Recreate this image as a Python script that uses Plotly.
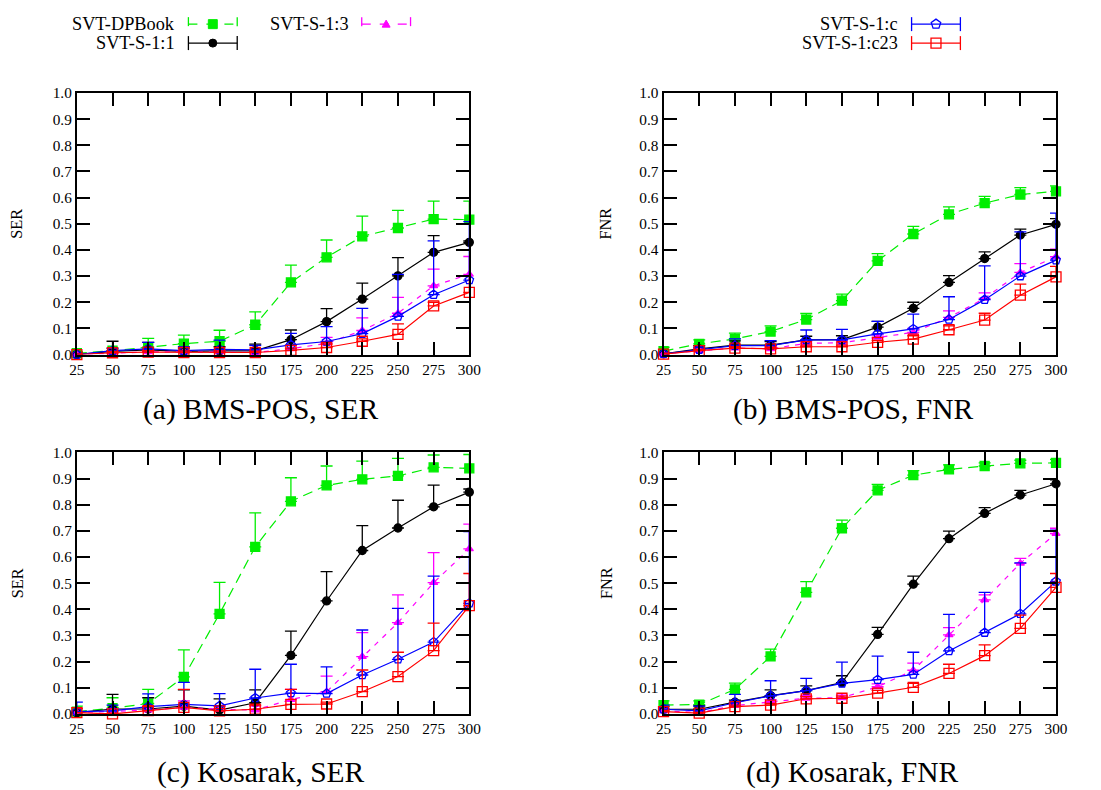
import math
import plotly.graph_objects as go

W, H = 1101, 790
# the photographed page is the figure offset by the 8px body margin and scaled
# by about 1101/1117 x 790/806; layout positions below are given in picture
# pixels and converted to figure paper coordinates.
PAGE_MARGIN = 8
SX, SY = (W + 2 * PAGE_MARGIN) / W, (H + 2 * PAGE_MARGIN) / H
FS = (SX + SY) / 2  # font size compensation

X = [25, 50, 75, 100, 125, 150, 175, 200, 225, 250, 275, 300]
SERIES = ["SVT-DPBook", "SVT-S-1:1", "SVT-S-1:3", "SVT-S-1:c", "SVT-S-1:c23"]

# (a) BMS-POS, SER
dpbook_a = [0.005, 0.015, 0.028, 0.042, 0.051, 0.114, 0.276, 0.372, 0.452, 0.484, 0.518, 0.516]
dpbook_a_hi = [0.012, 0.025, 0.062, 0.074, 0.093, 0.163, 0.342, 0.438, 0.529, 0.551, 0.587, 0.587]
s11_a = [0.0, 0.012, 0.018, 0.012, 0.014, 0.014, 0.057, 0.126, 0.212, 0.301, 0.391, 0.429]
s11_a_hi = [0.005, 0.051, 0.047, 0.025, 0.03, 0.04, 0.094, 0.176, 0.273, 0.371, 0.455, 0.435]
s13_a = [0.0, 0.006, 0.01, 0.01, 0.01, 0.008, 0.022, 0.043, 0.092, 0.158, 0.263, 0.307]
s13_a_hi = [0.003, 0.012, 0.018, 0.016, 0.016, 0.014, 0.035, 0.066, 0.14, 0.219, 0.327, 0.375]
sc_a = [0.0, 0.015, 0.022, 0.015, 0.02, 0.018, 0.037, 0.05, 0.08, 0.146, 0.229, 0.285]
sc_a_hi = [0.003, 0.024, 0.047, 0.03, 0.055, 0.035, 0.081, 0.107, 0.177, 0.307, 0.435, 0.508]
sc23_a = [0.0, 0.007, 0.009, 0.008, 0.008, 0.008, 0.016, 0.027, 0.051, 0.077, 0.186, 0.238]
sc23_a_hi = [0.003, 0.012, 0.015, 0.014, 0.014, 0.013, 0.025, 0.04, 0.06, 0.117, 0.2, 0.3]

# (b) BMS-POS, FNR
dpbook_b = [0.013, 0.041, 0.06, 0.088, 0.134, 0.206, 0.358, 0.461, 0.536, 0.579, 0.612, 0.624]
dpbook_b_hi = [0.028, 0.056, 0.082, 0.11, 0.157, 0.231, 0.386, 0.49, 0.565, 0.605, 0.638, 0.645]
s11_b = [0.003, 0.022, 0.036, 0.036, 0.056, 0.057, 0.105, 0.177, 0.276, 0.367, 0.457, 0.498]
s11_b_hi = [0.008, 0.034, 0.052, 0.05, 0.07, 0.072, 0.127, 0.2, 0.302, 0.393, 0.48, 0.52]
s13_b = [0.003, 0.015, 0.025, 0.022, 0.043, 0.045, 0.066, 0.085, 0.142, 0.215, 0.314, 0.374]
s13_b_hi = [0.006, 0.022, 0.035, 0.03, 0.05, 0.052, 0.075, 0.1, 0.167, 0.236, 0.348, 0.403]
sc_b = [0.003, 0.019, 0.034, 0.034, 0.056, 0.056, 0.079, 0.098, 0.134, 0.21, 0.3, 0.361]
sc_b_hi = [0.006, 0.028, 0.06, 0.053, 0.094, 0.096, 0.127, 0.155, 0.221, 0.339, 0.469, 0.541]
sc23_b = [0.002, 0.015, 0.025, 0.022, 0.03, 0.03, 0.047, 0.059, 0.095, 0.132, 0.227, 0.297]
sc23_b_hi = [0.005, 0.02, 0.03, 0.028, 0.036, 0.036, 0.054, 0.072, 0.11, 0.158, 0.269, 0.337]

# (c) Kosarak, SER
dpbook_c = [0.009, 0.022, 0.04, 0.142, 0.383, 0.639, 0.813, 0.874, 0.897, 0.91, 0.943, 0.939]
dpbook_c_hi = [0.03, 0.062, 0.094, 0.245, 0.503, 0.769, 0.903, 0.948, 0.967, 0.977, 0.99, 0.992]
s11_c = [0.005, 0.019, 0.019, 0.03, 0.015, 0.043, 0.224, 0.432, 0.625, 0.711, 0.792, 0.848]
s11_c_hi = [0.02, 0.075, 0.062, 0.092, 0.058, 0.092, 0.317, 0.544, 0.72, 0.817, 0.875, 0.86]
s13_c = [0.005, 0.01, 0.015, 0.025, 0.018, 0.015, 0.055, 0.085, 0.219, 0.349, 0.502, 0.631]
s13_c_hi = [0.02, 0.02, 0.03, 0.05, 0.03, 0.03, 0.094, 0.145, 0.311, 0.455, 0.617, 0.726]
sc_c = [0.009, 0.012, 0.028, 0.037, 0.031, 0.061, 0.08, 0.078, 0.149, 0.209, 0.275, 0.423]
sc_c_hi = [0.045, 0.034, 0.077, 0.121, 0.078, 0.171, 0.19, 0.18, 0.321, 0.404, 0.527, 0.697]
sc23_c = [0.005, 0.0, 0.013, 0.025, 0.012, 0.018, 0.037, 0.038, 0.085, 0.143, 0.242, 0.414]
sc23_c_hi = [0.022, 0.003, 0.028, 0.094, 0.02, 0.034, 0.094, 0.045, 0.168, 0.236, 0.347, 0.537]

# (d) Kosarak, FNR
dpbook_d = [0.034, 0.036, 0.094, 0.22, 0.465, 0.71, 0.855, 0.913, 0.935, 0.948, 0.958, 0.96]
dpbook_d_hi = [0.05, 0.05, 0.118, 0.248, 0.506, 0.741, 0.878, 0.93, 0.952, 0.96, 0.97, 0.973]
s11_d = [0.018, 0.018, 0.045, 0.07, 0.089, 0.12, 0.304, 0.496, 0.67, 0.767, 0.837, 0.88]
s11_d_hi = [0.028, 0.031, 0.053, 0.092, 0.107, 0.146, 0.331, 0.527, 0.699, 0.789, 0.855, 0.895]
s13_d = [0.012, 0.005, 0.032, 0.047, 0.06, 0.062, 0.104, 0.167, 0.302, 0.436, 0.576, 0.69]
s13_d_hi = [0.02, 0.012, 0.04, 0.055, 0.07, 0.072, 0.115, 0.194, 0.33, 0.455, 0.595, 0.71]
sc_d = [0.018, 0.012, 0.043, 0.069, 0.089, 0.117, 0.131, 0.151, 0.241, 0.311, 0.383, 0.507]
sc_d_hi = [0.034, 0.03, 0.075, 0.127, 0.136, 0.198, 0.221, 0.236, 0.381, 0.465, 0.578, 0.703]
sc23_d = [0.009, 0.003, 0.028, 0.034, 0.058, 0.06, 0.08, 0.102, 0.155, 0.223, 0.327, 0.484]
sc23_d_hi = [0.014, 0.006, 0.034, 0.04, 0.066, 0.068, 0.09, 0.117, 0.19, 0.264, 0.378, 0.537]

PANELS = [
    ("(a) BMS-POS, SER", "SER", [(dpbook_a, dpbook_a_hi), (s11_a, s11_a_hi), (s13_a, s13_a_hi), (sc_a, sc_a_hi), (sc23_a, sc23_a_hi)]),
    ("(b) BMS-POS, FNR", "FNR", [(dpbook_b, dpbook_b_hi), (s11_b, s11_b_hi), (s13_b, s13_b_hi), (sc_b, sc_b_hi), (sc23_b, sc23_b_hi)]),
    ("(c) Kosarak, SER", "SER", [(dpbook_c, dpbook_c_hi), (s11_c, s11_c_hi), (s13_c, s13_c_hi), (sc_c, sc_c_hi), (sc23_c, sc23_c_hi)]),
    ("(d) Kosarak, FNR", "FNR", [(dpbook_d, dpbook_d_hi), (s11_d, s11_d_hi), (s13_d, s13_d_hi), (sc_d, sc_d_hi), (sc23_d, sc23_d_hi)]),
]

STYLES = [
    dict(color="#00ee00", dash="10px,6px", symbol="square", size=9),
    dict(color="#000000", dash="solid", symbol="circle", size=8),
    dict(color="#ff00ff", dash="5px,6px", symbol="triangle-up", size=7),
    dict(color="#0000ff", dash="solid", symbol="pentagon-open", size=9),
    dict(color="#ff0000", dash="solid", symbol="square-open", size=10),
]

FONT = "Liberation Serif, Times New Roman, serif"

# picture-pixel boxes of the four plot areas: (left, right, top, bottom)
BOXES = [(77, 471, 92, 354), (666, 1060, 92, 354), (77, 471, 452, 714), (666, 1060, 452, 714)]
CAPTION_POS = [(262, 409), (856, 409), (262, 773), (856, 773)]
YTITLE_X = [17, 608, 17, 608]


def px(x):
    return (x * SX - PAGE_MARGIN) / W


def py(y):
    return 1 - (y * SY - PAGE_MARGIN) / H


fig = go.Figure()
layout = dict(
    width=W, height=H, margin=dict(l=0, r=0, t=0, b=0),
    paper_bgcolor="white", plot_bgcolor="white", showlegend=False,
    font=dict(family=FONT, color="black"),
)
annotations = []
shapes = []

for i, (caption, ytitle, data) in enumerate(PANELS):
    n = i + 1
    xa = "x" if n == 1 else f"x{n}"
    ya = "y" if n == 1 else f"y{n}"
    l, r, t, b = BOXES[i]
    axis_common = dict(
        showgrid=False, zeroline=False, showline=True, linewidth=2, linecolor="black",
        mirror="ticks", ticks="inside", ticklen=13, tickwidth=2, tickcolor="black",
        tickfont=dict(family=FONT, size=round(15 * FS, 1), color="black"),
    )
    layout["xaxis" if n == 1 else f"xaxis{n}"] = dict(
        domain=[px(l), px(r)], anchor=ya, range=[25, 300], tickvals=X, **axis_common)
    layout["yaxis" if n == 1 else f"yaxis{n}"] = dict(
        domain=[py(b), py(t)], anchor=xa, range=[0, 1], tickvals=[k / 10 for k in range(11)],
        tickformat=".1f", **axis_common)
    for (yv, hi), st, name in zip(data, STYLES, SERIES):
        fig.add_trace(go.Scatter(
            x=X, y=yv, name=name, xaxis=xa, yaxis=ya, mode="lines+markers", cliponaxis=False,
            line=dict(color=st["color"], width=1.2, dash=st["dash"]),
            marker=dict(symbol=st["symbol"], size=st["size"], color=st["color"],
                        line=dict(color=st["color"], width=1.3)),
            error_y=dict(type="data", symmetric=False,
                         array=[h - v for h, v in zip(hi, yv)], arrayminus=[0] * len(yv),
                         color=st["color"], thickness=1.3, width=6),
        ))
    cx, cy = CAPTION_POS[i]
    annotations.append(dict(text=caption, x=px(cx), y=py(cy), xref="paper", yref="paper",
                            showarrow=False, xanchor="center", yanchor="middle",
                            font=dict(family=FONT, size=round(29 * FS, 1), color="black")))
    annotations.append(dict(text=ytitle, x=px(YTITLE_X[i]), y=py((t + b) / 2), xref="paper",
                            yref="paper", showarrow=False, textangle=-90,
                            xanchor="center", yanchor="middle",
                            font=dict(family=FONT, size=round(16 * FS, 1), color="black")))

# legend (gnuplot style: label on the left, errorbar sample on the right)
LEGEND = [
    (0, 178, 23, 189, 238),
    (1, 178, 42, 189, 238),
    (2, 352, 23, 363, 412),
    (3, 903, 23, 915, 964),
    (4, 903, 42, 915, 964),
]
for idx, tx, ty, s0, s1 in LEGEND:
    st = STYLES[idx]
    c = st["color"]
    dash = "dash" if st["dash"] != "solid" else "solid"
    annotations.append(dict(text=SERIES[idx], x=px(tx), y=py(ty), xref="paper", yref="paper",
                            showarrow=False, xanchor="right", yanchor="middle",
                            font=dict(family=FONT, size=round(18 * FS, 1), color="black")))
    shapes.append(dict(type="line", xref="paper", yref="paper", x0=px(s0), x1=px(s1),
                       y0=py(ty), y1=py(ty), line=dict(color=c, width=1.3, dash=dash)))
    for sx in (s0, s1):
        shapes.append(dict(type="line", xref="paper", yref="paper", x0=px(sx), x1=px(sx),
                           y0=py(ty - 7), y1=py(ty + 7), line=dict(color=c, width=1.3, dash=dash)))
    mx = (s0 + s1) / 2
    sym = st["symbol"]
    if sym == "square":
        shapes.append(dict(type="rect", xref="paper", yref="paper", x0=px(mx - 4.5), x1=px(mx + 4.5),
                           y0=py(ty - 4.5), y1=py(ty + 4.5), fillcolor=c, line=dict(color=c, width=1)))
    elif sym == "square-open":
        shapes.append(dict(type="rect", xref="paper", yref="paper", x0=px(mx - 5), x1=px(mx + 5),
                           y0=py(ty - 5), y1=py(ty + 5), fillcolor="rgba(0,0,0,0)", line=dict(color=c, width=1.3)))
    elif sym == "circle":
        shapes.append(dict(type="circle", xref="paper", yref="paper", x0=px(mx - 4), x1=px(mx + 4),
                           y0=py(ty - 4), y1=py(ty + 4), fillcolor=c, line=dict(color=c, width=1)))
    elif sym == "triangle-up":
        pts = [(mx, ty - 4), (mx + 4, ty + 3), (mx - 4, ty + 3)]
        path = "M " + " L ".join(f"{px(a)},{py(bb)}" for a, bb in pts) + " Z"
        shapes.append(dict(type="path", xref="paper", yref="paper", path=path,
                           fillcolor=c, line=dict(color=c, width=1)))
    elif sym == "pentagon-open":
        pts = [(mx + 5 * math.sin(2 * math.pi * k / 5), ty - 5 * math.cos(2 * math.pi * k / 5)) for k in range(5)]
        path = "M " + " L ".join(f"{px(a)},{py(bb)}" for a, bb in pts) + " Z"
        shapes.append(dict(type="path", xref="paper", yref="paper", path=path,
                           fillcolor="rgba(0,0,0,0)", line=dict(color=c, width=1.3)))

layout["annotations"] = annotations
layout["shapes"] = shapes
fig.update_layout(**layout)
fig.write_html("out.html")
